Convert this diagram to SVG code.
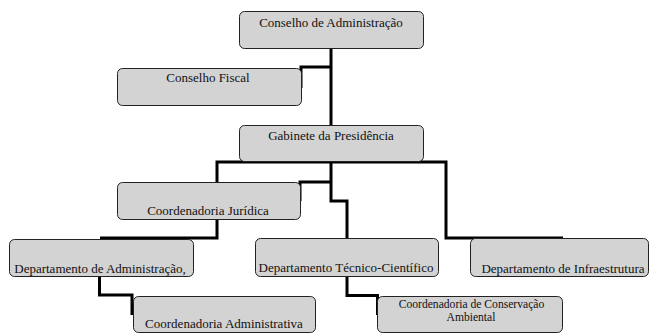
<svg xmlns="http://www.w3.org/2000/svg" width="649" height="333" viewBox="0 0 649 333">
<style>
.box{fill:#d3d3d3;stroke:#222;stroke-width:1}
.t{font-family:"Liberation Serif","Times New Roman",serif;font-size:13px;fill:#111;text-anchor:middle}
.s{font-size:11.6px}
.c{fill:none;stroke:#000;stroke-width:3;stroke-linejoin:miter}
</style>
<rect width="649" height="333" fill="#fff"/>
<g id="connectors">
<path class="c" d="M331,48 V125"/>
<path class="c" d="M331,67 H301 V88"/>
<path class="c" d="M217,182 V162 H446 V238 H563"/>
<path class="c" d="M331,162 V201 H347 V238"/>
<path class="c" d="M331,182 H300 V201"/>
<path class="c" d="M217,219 V238 H100"/>
<path class="c" d="M99.5,276 V295 H132 V315"/>
<path class="c" d="M347,276 V295.5 H377.5 V315"/>
</g>
<g id="n1"><rect class="box" x="239.5" y="11.5" width="184" height="37" rx="5"/><text class="t" x="331" y="27">Conselho de Administração</text></g>
<g id="n2"><rect class="box" x="117.5" y="68.5" width="184" height="37" rx="5"/><text class="t" x="208" y="82">Conselho Fiscal</text></g>
<g id="n3"><rect class="box" x="239.5" y="125.5" width="184" height="36" rx="5"/><text class="t" x="331" y="140">Gabinete da Presidência</text></g>
<g id="n4"><rect class="box" x="117.5" y="182.5" width="183" height="37" rx="5"/><text class="t" x="208" y="215">Coordenadoria Jurídica</text></g>
<g id="n5"><rect class="box" x="9.5" y="239.5" width="184" height="37" rx="5"/><text class="t" x="100" y="272.5">Departamento de Administração,</text></g>
<g id="n6"><rect class="box" x="255.5" y="238.5" width="183" height="38" rx="5"/><text class="t" x="346" y="272">Departamento Técnico-Científico</text></g>
<g id="n7"><rect class="box" x="470.5" y="238.5" width="178" height="38" rx="5"/><text class="t" x="563" y="272.5">Departamento de Infraestrutura</text></g>
<g id="n8"><rect class="box" x="133.5" y="296.5" width="182" height="36" rx="5"/><text class="t" x="224" y="328">Coordenadoria Administrativa</text></g>
<g id="n9"><rect class="box" x="377.5" y="296.5" width="185" height="36" rx="5"/><text class="t s" x="471.5" y="307.5">Coordenadoria de Conservação</text><text class="t s" x="471" y="320.5">Ambiental</text></g>
</svg>
